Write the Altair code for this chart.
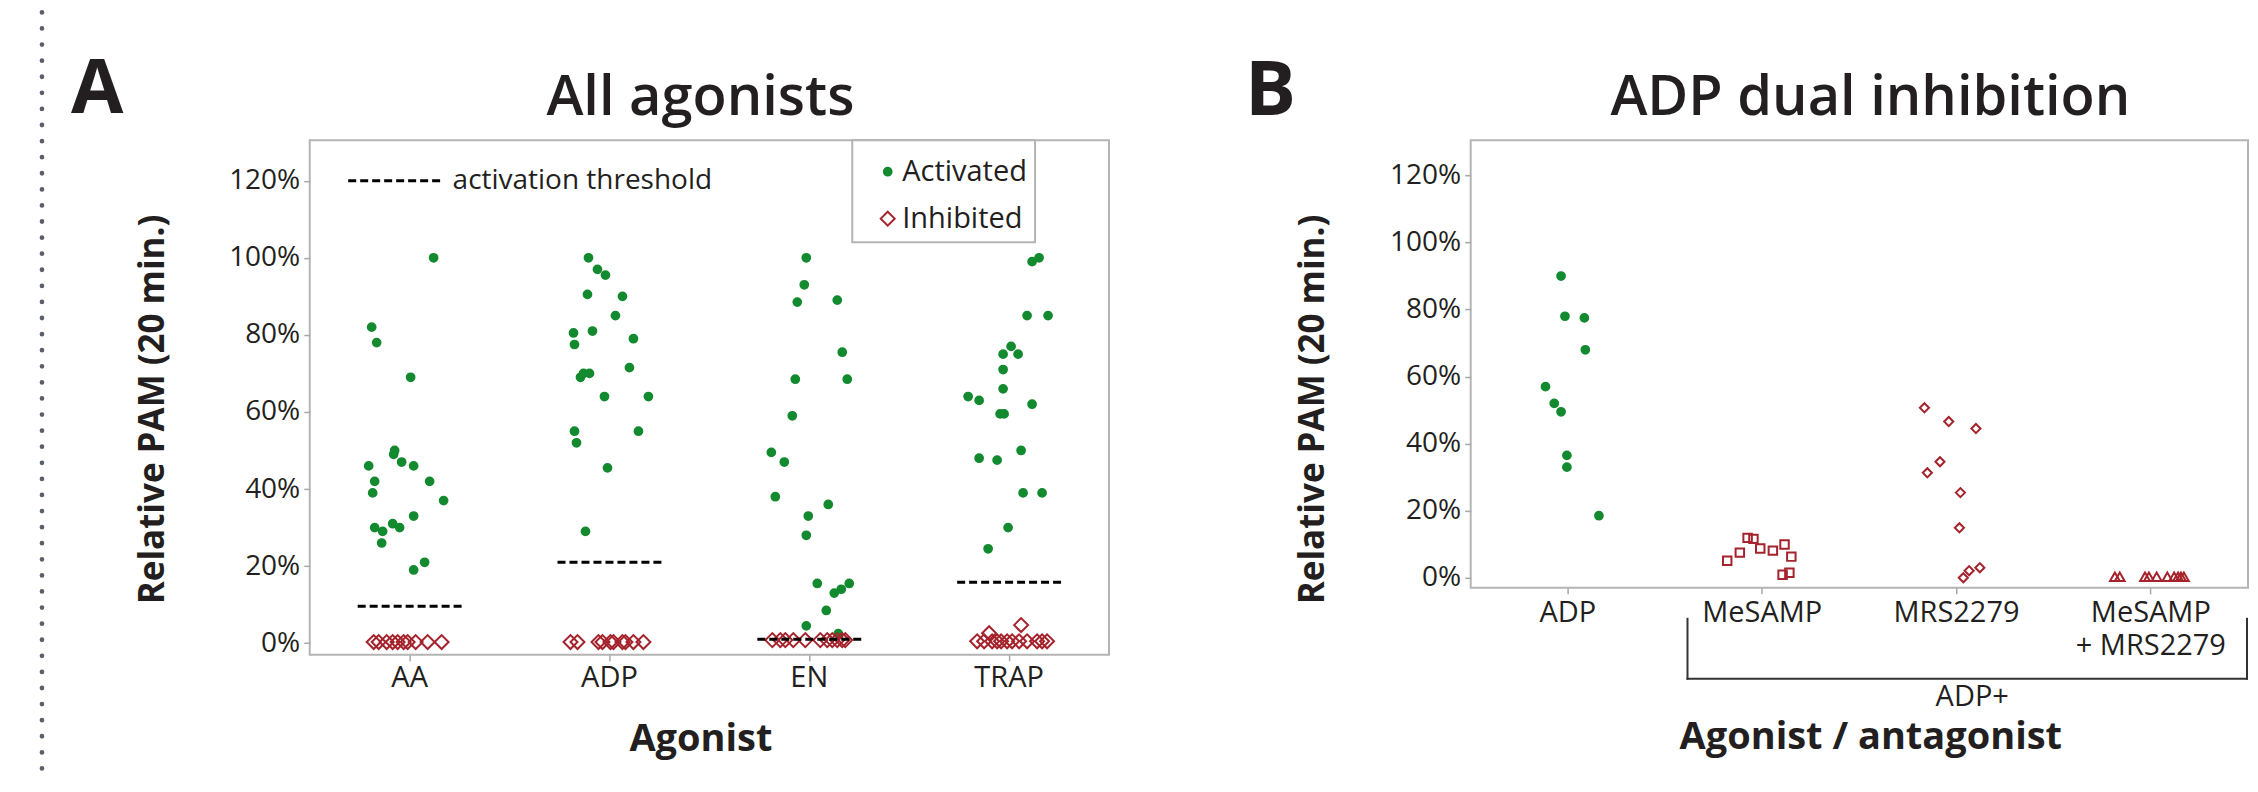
import altair as alt
import pandas as pd

GREEN = "#138a2f"
RED = "#a5232c"
INK = "#231f20"
FRAME = "#b4b4b4"
FONT = "Open Sans"

# ---------------- Panel A data ----------------
agonists = ["AA", "ADP", "EN", "TRAP"]
statuses = ["Activated", "Inhibited"]
thr_label = "activation threshold"

aa_act = [1.00, 0.82, 0.78, 0.69, 0.50, 0.49, 0.47, 0.46, 0.46, 0.42, 0.39, 0.42, 0.37, 0.33, 0.30, 0.29, 0.26, 0.31, 0.30, 0.19, 0.21]
aa_act_jit = [24, -38, -33, 1, -15, -16, -8, 4, -41, -35, -37, 20, 34, 4, -35, -27, -28, -17, -10, 4, 15]
aa_inh = [0.003, 0.003, 0.003, 0.003, 0.003, 0.003, 0.003, 0.003, 0.003, 0.003]
aa_inh_jit = [-36, -31, -23, -17, -12, -6, -2, 6, 18, 32]

adp_act = [1.00, 0.97, 0.955, 0.905, 0.90, 0.85, 0.805, 0.81, 0.775, 0.79, 0.715, 0.69, 0.70, 0.70, 0.64, 0.64, 0.55, 0.52, 0.55, 0.455, 0.29]
adp_act_jit = [-21, -12, -4, -22, 13, 6, -36, -17, -35, 24, 20, -29, -26, -20, -5, 39, -35, -33, 29, -2, -24]
adp_inh = [0.003, 0.003, 0.003, 0.003, 0.003, 0.003, 0.003, 0.003, 0.003, 0.003]
adp_inh_jit = [-39, -32, -11, -7, 1, 4, 13, 16, 24, 34]

en_act = [1.00, 0.93, 0.885, 0.89, 0.755, 0.685, 0.685, 0.59, 0.495, 0.47, 0.38, 0.36, 0.33, 0.28, 0.155, 0.13, 0.14, 0.155, 0.085, 0.045, 0.025]
en_act_jit = [-3, -5, -12, 28, 33, -14, 38, -17, -38, -25, -34, 19, -1, -3, 8, 25, 32, 40, 17, -3, 29]
en_inh = [0.008, 0.008, 0.008, 0.008, 0.008, 0.008, 0.008, 0.008, 0.008, 0.008, 0.008]
en_inh_jit = [-37, -29, -24, -16, -4, 11, 18, 23, 28, 33, 36]

trap_act = [1.00, 0.99, 0.85, 0.85, 0.77, 0.75, 0.75, 0.71, 0.66, 0.64, 0.63, 0.62, 0.595, 0.595, 0.50, 0.48, 0.475, 0.39, 0.39, 0.30, 0.245]
trap_act_jit = [30, 23, 18, 39, 2, -6, 9, -6, -6, -41, -30, 23, -9, -5, 12, -30, -12, 14, 33, -1, -21]
trap_inh = [0.005, 0.005, 0.005, 0.005, 0.005, 0.005, 0.005, 0.005, 0.005, 0.005, 0.005, 0.005, 0.026, 0.047]
trap_inh_jit = [-32, -25, -17, -12, -8, -2, 3, 10, 18, 28, 33, 38, -20, 12]

thresholds = [0.096, 0.21, 0.010, 0.158]

# ---------------- Panel B data ----------------
groups = ["ADP", "MeSAMP", "MRS2279", "MeSAMP + MRS2279"]
b_adp = [0.90, 0.78, 0.775, 0.68, 0.57, 0.52, 0.495, 0.365, 0.33, 0.185]
b_adp_jit = [-7, -3, 17, 18, -23, -14, -7, -1, -1, 32]
b_mesamp = [0.051, 0.075, 0.119, 0.116, 0.087, 0.081, 0.099, 0.063, 0.009, 0.015]
b_mesamp_jit = [-36, -23, -15, -9, -2, 11, 23, 30, 21, 28]
b_mrs = [0.507, 0.466, 0.445, 0.346, 0.313, 0.254, 0.149, 0.030, 0.021, 0.000]
b_mrs_jit = [-33, -8, 20, -17, -30, 4, 3, 24, 13, 7]
b_combo = [0.003, 0.003, 0.003, 0.003, 0.003, 0.003, 0.003, 0.003, 0.003, 0.003]
b_combo_jit = [-37, -32, -6, -2, 6, 17, 24, 28, 31, 34]

y_ticks = [0, 0.2, 0.4, 0.6, 0.8, 1.0, 1.2]
y_domain = [-0.03, 1.305]

title_a = "All agonists"
title_b = "ADP dual inhibition"
letter_a = "A"
letter_b = "B"
bracket_label = "ADP+"

# ---------------- tables ----------------
rows_a = []
for ag, act, actj in [
    ("AA", aa_act, aa_act_jit),
    ("ADP", adp_act, adp_act_jit),
    ("EN", en_act, en_act_jit),
    ("TRAP", trap_act, trap_act_jit),
]:
    for v, j in zip(act, actj):
        rows_a.append({"agonist": ag, "value": v, "jit": j, "status": "Activated", "ord": 0})
for ag, inh, inhj in [
    ("AA", aa_inh, aa_inh_jit),
    ("ADP", adp_inh, adp_inh_jit),
    ("EN", en_inh, en_inh_jit),
    ("TRAP", trap_inh, trap_inh_jit),
]:
    for v, j in zip(inh, inhj):
        rows_a.append({"agonist": ag, "value": v, "jit": j, "status": "Inhibited", "ord": 1})
df_a = pd.DataFrame(rows_a)
df_thr = pd.DataFrame({"agonist": agonists, "thr": thresholds, "label": [thr_label] * 4})

rows_b = []
for g, vals, jits in [
    (groups[0], b_adp, b_adp_jit),
    (groups[1], b_mesamp, b_mesamp_jit),
    (groups[2], b_mrs, b_mrs_jit),
    (groups[3], b_combo, b_combo_jit),
]:
    for v, j in zip(vals, jits):
        rows_b.append({"grp": g, "value": v, "jit": j})
df_b = pd.DataFrame(rows_b)

# ---------------- shared settings ----------------
W_A, H_A = 800, 515
W_B, H_B = 778, 448

y_scale = alt.Scale(domain=y_domain, nice=False, zero=False)
off_scale = alt.Scale(domain=[-100, 100])


def y_axis(tx, ty):
    return alt.Axis(values=y_ticks, format=".0%", title="Relative PAM (20 min.)",
                    titleX=tx, titleY=ty, titleAngle=270, titleAlign="center",
                    titleBaseline="middle", titleFontSize=35, titleFontWeight="bold",
                    labelFontSize=28, labelFontWeight=500, labelPadding=4, tickSize=6,
                    domain=False, grid=False)


# ---------------- Panel A ----------------
leg_main = alt.Legend(orient="none", legendX=543, legendY=0, title="\u00a0",
                      titleFontSize=1, titlePadding=8,
                      strokeColor=FRAME, fillColor="white", padding=8,
                      rowPadding=17, symbolSize=160, symbolStrokeWidth=2,
                      symbolOffset=13, labelOffset=0, labelFontSize=29,
                      labelFontWeight=500, labelColor=INK, labelFont=FONT, labelLimit=0,
                      labelExpr="datum.label + '" + "\u00a0" * 11 + "'")

pts_a = alt.Chart(df_a).mark_point(strokeWidth=2, opacity=1).encode(
    x=alt.X("agonist:N",
            scale=alt.Scale(type="band", domain=agonists, paddingInner=0, paddingOuter=0),
            axis=alt.Axis(title="Agonist", labelAngle=0, labelFontSize=29, labelFontWeight=500,
                          labelPadding=3, tickSize=6, titleFontSize=38, titleFontWeight="bold",
                          titleX=391, titleY=96, titleAlign="center",
                          titleBaseline="alphabetic", domain=False)),
    xOffset=alt.XOffset("jit:Q", scale=off_scale),
    y=alt.Y("value:Q", scale=y_scale, axis=y_axis(-157, 269)),
    shape=alt.Shape("status:N", scale=alt.Scale(domain=statuses, range=["circle", "diamond"]), legend=leg_main),
    color=alt.Color("status:N", scale=alt.Scale(domain=statuses, range=[GREEN, RED]), legend=leg_main),
    fill=alt.Fill("status:N", scale=alt.Scale(domain=statuses, range=[GREEN, "transparent"]), legend=leg_main),
    size=alt.Size("status:O", scale=alt.Scale(domain=statuses, range=[60, 195]), legend=None),
    order=alt.Order("ord:Q"),
)

thr_a = alt.Chart(df_thr).mark_rule(color="black", strokeWidth=3).encode(
    x=alt.X("agonist:N", bandPosition=0.24),
    x2=alt.X2("agonist", bandPosition=0.775),
    y=alt.Y("thr:Q"),
    strokeDash=alt.StrokeDash("label:N", scale=alt.Scale(domain=[thr_label], range=[[8, 4]]),
                              legend=alt.Legend(orient="none", legendX=37, legendY=-7, title=None,
                                                symbolType="stroke", symbolSize=8464,
                                                symbolStrokeWidth=3, symbolStrokeColor="black",
                                                labelFontSize=28, labelOffset=11, padding=0,
                                                labelLimit=0, labelFontWeight=500,
                                                labelColor=INK, labelFont=FONT)),
)

ann_a = pd.DataFrame({"letter": [letter_a], "title": [title_a]})
letter_a_mark = alt.Chart(ann_a).mark_text(font=FONT, fontSize=76, fontWeight="bold", color=INK,
                                            align="left", baseline="alphabetic").encode(
    x=alt.value(-239), y=alt.value(-27), text="letter:N")
title_a_mark = alt.Chart(ann_a).mark_text(font=FONT, fontSize=56, fontWeight=600, color=INK,
                                           align="center", baseline="alphabetic").encode(
    x=alt.value(391), y=alt.value(-25), text="title:N")
dots = alt.Chart(ann_a).mark_rule(color="#5a5f6b", strokeWidth=4.7, strokeCap="round",
                                  strokeDash=[0.1, 16]).encode(
    x=alt.value(-268), y=alt.value(-128), y2=alt.value(636))

panel_a = alt.layer(dots, pts_a, thr_a, letter_a_mark, title_a_mark).properties(width=W_A, height=H_A)

# ---------------- Panel B ----------------
pts_b = alt.Chart(df_b).mark_point(strokeWidth=2, opacity=1).encode(
    x=alt.X("grp:N",
            scale=alt.Scale(type="band", domain=groups, paddingInner=0, paddingOuter=0),
            axis=alt.Axis(title="Agonist / antagonist", labelAngle=0, labelFontSize=29,
                          labelFontWeight=500,
                          labelPadding=5, tickSize=6, labelLineHeight=33, labelLimit=0,
                          labelExpr="split(replace(datum.label, ' + ', '|+ '), '|')",
                          titleFontSize=38, titleFontWeight="bold",
                          titleX=400, titleY=161, titleAlign="center",
                          titleBaseline="alphabetic", domain=False)),
    xOffset=alt.XOffset("jit:Q", scale=off_scale),
    y=alt.Y("value:Q", scale=y_scale, axis=y_axis(-158, 269)),
    shape=alt.Shape("grp:N", scale=alt.Scale(domain=groups, range=["circle", "square", "diamond", "triangle-up"]), legend=None),
    color=alt.Color("grp:N", scale=alt.Scale(domain=groups, range=[GREEN, RED, RED, RED]), legend=None),
    fill=alt.Fill("grp:N", scale=alt.Scale(domain=groups, range=[GREEN, "transparent", "transparent", "transparent"]), legend=None),
    size=alt.Size("grp:O", scale=alt.Scale(domain=groups, range=[60, 95, 195, 150]), legend=None),
)

ann_b = pd.DataFrame({"letter": [letter_b], "title": [title_b], "brk": [bracket_label]})
letter_b_mark = alt.Chart(ann_b).mark_text(font=FONT, fontSize=76, fontWeight="bold", color=INK,
                                            align="left", baseline="alphabetic").encode(
    x=alt.value(-226), y=alt.value(-25), text="letter:N")
title_b_mark = alt.Chart(ann_b).mark_text(font=FONT, fontSize=56, fontWeight=600, color=INK,
                                           align="center", baseline="alphabetic").encode(
    x=alt.value(400), y=alt.value(-25), text="title:N")
brk_text = alt.Chart(ann_b).mark_text(font=FONT, fontSize=29, fontWeight=500, color=INK,
                                       align="center", baseline="alphabetic").encode(
    x=alt.value(502), y=alt.value(566), text="brk:N")
brk_left = alt.Chart(ann_b).mark_rule(color="#333333", strokeWidth=2).encode(
    x=alt.value(217), y=alt.value(478), y2=alt.value(540))
brk_bottom = alt.Chart(ann_b).mark_rule(color="#333333", strokeWidth=2).encode(
    x=alt.value(216), x2=alt.value(778), y=alt.value(539))
brk_right = alt.Chart(ann_b).mark_rule(color="#333333", strokeWidth=2).encode(
    x=alt.value(777), y=alt.value(478), y2=alt.value(540))

panel_b = alt.layer(pts_b, brk_left, brk_bottom, brk_right, brk_text, letter_b_mark,
                    title_b_mark).properties(width=W_B, height=H_B)

chart = alt.hconcat(panel_a, panel_b, spacing=362, bounds="flush").resolve_scale(
    color="independent", fill="independent", shape="independent", size="independent",
    strokeDash="independent", x="independent", y="independent", xOffset="independent"
).properties(
    padding={"left": 30, "top": 0, "right": 0, "bottom": 0},
    background="white",
).configure_axis(
    labelColor=INK, titleColor=INK, tickColor="#a8a8a8", tickWidth=1.5,
    labelFont=FONT, titleFont=FONT,
).configure_view(
    stroke=FRAME, strokeWidth=2,
).configure_legend(
    strokeWidth=2,
)

chart.save("out.html", embed_options={"renderer": "svg", "actions": False})
